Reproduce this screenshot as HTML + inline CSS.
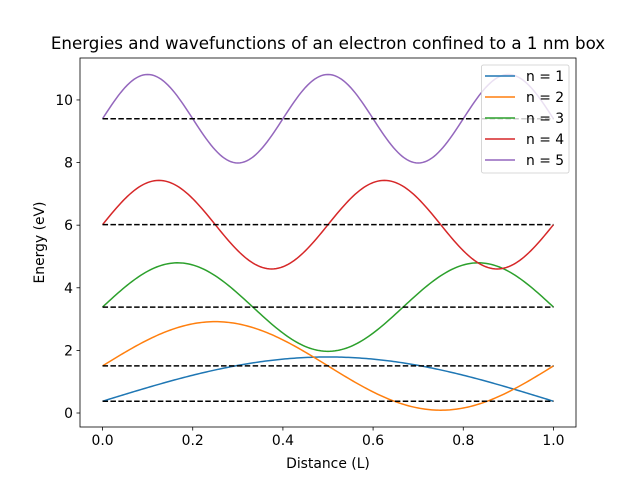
<!DOCTYPE html>
<html><head><meta charset="utf-8"><style>
body{margin:0;background:#fff;}
svg text{font-family:"DejaVu Sans","Liberation Sans",sans-serif;}
</style></head><body>
<svg id="chart" width="640" height="480" xmlns="http://www.w3.org/2000/svg">
<rect width="640" height="480" fill="#fff"/>
<text x="328" y="49" font-size="16.7" text-anchor="middle">Energies and wavefunctions of an electron confined to a 1 nm box</text>
<g id="plot"></g>
<rect x="80" y="58" width="496" height="369" fill="none" stroke="#000" stroke-width="0.8"/>
<text x="328" y="468" font-size="13.9" text-anchor="middle">Distance (L)</text>
<text transform="translate(44,242.5) rotate(-90)" font-size="13.9" text-anchor="middle">Energy (eV)</text>
</svg>
<script>
const levels = [1, 2, 3, 4, 5];
const energies = [0.376, 1.504, 3.384, 6.016, 9.4];
const amplitudes = [1.414, 1.414, 1.414, 1.414, 1.414];
const xTicks = [0.0, 0.2, 0.4, 0.6, 0.8, 1.0];
const xTickLabels = ["0.0", "0.2", "0.4", "0.6", "0.8", "1.0"];
const yTicks = [0, 2, 4, 6, 8, 10];
const yTickLabels = ["0", "2", "4", "6", "8", "10"];
const colors = ["#1f77b4", "#ff7f0e", "#2ca02c", "#d62728", "#9467bd"];

const NS = "http://www.w3.org/2000/svg";
const X0 = 80, X1 = 576, Y0 = 58, Y1 = 427;
const xMin = -0.05, xMax = 1.05, yMin = -0.447, yMax = 11.34;
const sx = v => X0 + (v - xMin) / (xMax - xMin) * (X1 - X0);
const sy = v => Y1 - (v - yMin) / (yMax - yMin) * (Y1 - Y0);
const g = document.getElementById("plot");
function mk(tag, attrs) { const e = document.createElementNS(NS, tag); for (const k in attrs) e.setAttribute(k, attrs[k]); g.appendChild(e); return e; }

xTicks.forEach((t, i) => {
  const l = mk("line", {x1: sx(t), x2: sx(t), y1: Y1, y2: Y1 + 3.5, stroke: "#000", "stroke-width": 0.8});
  
  
  const tx = mk("text", {x: sx(t), y: Y1 + 18, "font-size": 13.9, "text-anchor": "middle"});
  tx.textContent = xTickLabels[i];
  
  
});
yTicks.forEach((t, i) => {
  const l = mk("line", {x1: X0 - 3.5, x2: X0, y1: sy(t), y2: sy(t), stroke: "#000", "stroke-width": 0.8});
  
  
  const tx = mk("text", {x: X0 - 7, y: sy(t) + 5, "font-size": 13.9, "text-anchor": "end"});
  tx.textContent = yTickLabels[i];
  
  
});

levels.forEach((n, i) => {
  let d = "";
  for (let k = 0; k <= 200; k++) {
    const x = k / 200;
    const y = energies[i] + amplitudes[i] * Math.sin(n * Math.PI * x);
    d += (k ? "L" : "M") + sx(x).toFixed(2) + "," + sy(y).toFixed(2);
  }
  const p = mk("path", {d: d, fill: "none", stroke: colors[i], "stroke-width": 1.5});
  
  
});
levels.forEach((n, i) => {
  const l = mk("line", {x1: sx(0), x2: sx(1), y1: sy(energies[i]), y2: sy(energies[i]), stroke: "#000", "stroke-width": 1.5, "stroke-dasharray": "5.5,2.4"});
  
  
});

const lg = mk("rect", {x: 481.5, y: 65, width: 87.5, height: 108, rx: 2, fill: "#fff", "fill-opacity": 0.8, stroke: "#ccc", "stroke-width": 0.8});


levels.forEach((n, i) => {
  const y = 76 + i * 21;
  const l = mk("line", {x1: 485, x2: 515, y1: y, y2: y, stroke: colors[i], "stroke-width": 1.5});
  
  
  const t = mk("text", {x: 526, y: y + 5, "font-size": 13.9});
  t.textContent = "n = " + n;
  
  
});
</script>
</body></html>
